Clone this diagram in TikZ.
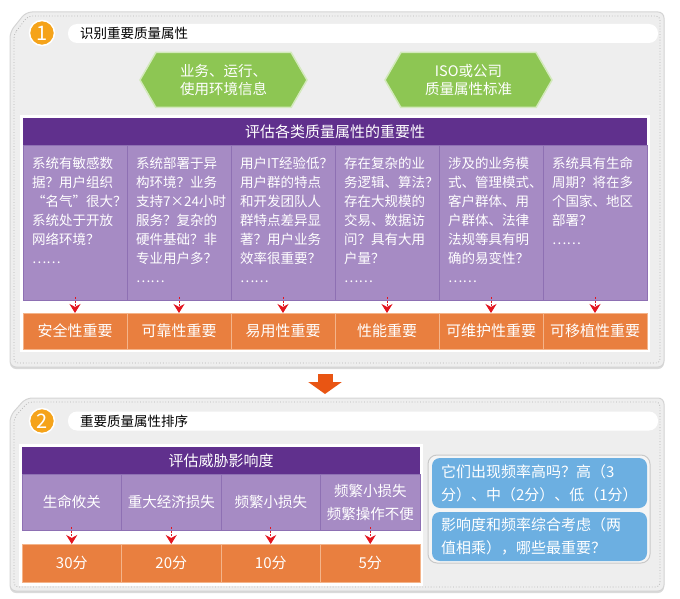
\documentclass[tikz,border=0pt]{standalone}
\usepackage{fontspec}
\setmainfont{Noto Sans CJK SC}
\usetikzlibrary{positioning,shapes.symbols,arrows.meta}

\definecolor{panelbg}{HTML}{EEEEEE}
\definecolor{panelline}{HTML}{D4D4D4}
\definecolor{panelshade}{HTML}{DADADA}
\definecolor{dotline}{HTML}{B5B5B5}
\definecolor{numorange}{HTML}{F5A31A}
\definecolor{hexgreen}{HTML}{8DC653}
\definecolor{hexline}{HTML}{D3E9BC}
\definecolor{darkpurple}{HTML}{60308D}
\definecolor{lightpurple}{HTML}{A68BC4}
\definecolor{purpleline}{HTML}{8E70B3}
\definecolor{resorange}{HTML}{E97F3F}
\definecolor{resline}{HTML}{F4B48A}
\definecolor{arrowred}{HTML}{E3151F}
\definecolor{bigorange}{HTML}{E95513}
\definecolor{askblue}{HTML}{6CAFE1}
\definecolor{askframe}{HTML}{C9C9C9}

\begin{document}
\begin{tikzpicture}[
    x=1pt, y=-1pt,
    panel/.style={fill=panelbg, draw=panelline, line width=1pt, rounded corners=6pt},
    dotframe/.style={draw=dotline, dotted, line width=0.8pt, rounded corners=4pt},
    titlebar/.style={fill=white, rounded corners=9pt, minimum width=590pt, minimum height=19pt,
                     text width=566pt, inner xsep=12pt, inner ysep=0pt, align=left,
                     font=\fontsize{13.5}{16}\selectfont},
    num/.style={circle, fill=numorange, draw=white, line width=1.5pt, minimum size=25pt,
                inner sep=0pt, text=white, font=\fontsize{20}{20}\selectfont},
    hexa/.style={signal, signal to=west and east, signal pointer angle=120,
                 fill=hexgreen, draw=hexline, line width=1.5pt,
                 minimum width=167pt, minimum height=55pt, inner sep=0pt,
                 text=white, align=center, font=\fontsize{14.5}{18}\selectfont},
    head/.style={fill=darkpurple, minimum height=27pt, inner sep=0pt, outer sep=0pt,
                 text=white, font=\fontsize{15}{18}\selectfont},
    col/.style={fill=lightpurple, draw=purpleline, line width=0.6pt, minimum width=104pt,
                minimum height=155pt, inner sep=0pt, outer sep=0pt},
    coltxt/.style={anchor=north west, text width=92pt, align=left, inner sep=0pt,
                   text=white, font=\fontsize{13.5}{19}\selectfont},
    res/.style={fill=resorange, draw=resline, line width=0.6pt, minimum width=104pt,
                minimum height=36pt, inner sep=0pt, outer sep=0pt,
                text=white, font=\fontsize{15}{18}\selectfont},
    threat/.style={col, minimum width=99.5pt, minimum height=56pt, align=center,
                   text=white, font=\fontsize{14.5}{23}\selectfont},
    score/.style={res, minimum width=99.5pt, minimum height=38pt},
    ask/.style={fill=askblue, rounded corners=8pt, minimum width=215pt, text width=197pt,
                inner xsep=9pt, align=left, text=white, font=\fontsize{15}{23}\selectfont},
    flow/.style={arrowred, line width=0.9pt, dash pattern=on 2pt off 1.5pt,
                 -{Stealth[length=9pt,width=11pt]}},
    bigarrow/.style={bigorange, line width=15pt, -{Triangle[length=12pt,width=33pt]}}
]
\useasboundingbox (0,0) rectangle (680,599);

% panel 1
\fill[panelshade, rounded corners=6pt, yshift=-2pt] (10,32) -- (26,12) -- (664,12) -- (664,367) -- (10,367) -- cycle;
\draw[panel] (10,32) -- (26,12) -- (664,12) -- (664,367) -- (10,367) -- cycle;
\draw[dotframe] (14,34) -- (28,16) -- (660,16) -- (660,363) -- (14,363) -- cycle;

\node[titlebar] (tb1) at (363,33.5) {识别重要质量属性};
\node[num] (n1) at (42,33) {1};

\node[hexa] (env) at (223.5,80) {业务、运行、\\使用环境信息};
\node[hexa] (std) at (468.5,80) {ISO或公司\\质量属性标准};

\fill[white] (20,115) rectangle (650,352);
\node[head, minimum width=624pt] (eval) at (335,131.5) {评估各类质量属性的重要性};

\node[col] (c1) at (75,222.5) {};
\node[col, right=0pt of c1] (c2) {};
\node[col, right=0pt of c2] (c3) {};
\node[col, right=0pt of c3] (c4) {};
\node[col, right=0pt of c4] (c5) {};
\node[col, right=0pt of c5] (c6) {};

\node[coltxt] (t1) at ([xshift=9pt,yshift=-12pt]c1.north west)
    {系统有敏感数\\据？用户组织\\“名气”很大？\\系统处于开放\\网络环境？\\……};
\node[coltxt] (t2) at ([xshift=9pt,yshift=-12pt]c2.north west)
    {系统部署于异\\构环境？业务\\支持7×24小时\\服务？复杂的\\硬件基础？非\\专业用户多？\\……};
\node[coltxt] (t3) at ([xshift=9pt,yshift=-12pt]c3.north west)
    {用户IT经验低？\\用户群的特点\\和开发团队人\\群特点差异显\\著？用户业务\\效率很重要？\\……};
\node[coltxt] (t4) at ([xshift=9pt,yshift=-12pt]c4.north west)
    {存在复杂的业\\务逻辑、算法？\\存在大规模的\\交易、数据访\\问？具有大用\\户量？\\……};
\node[coltxt] (t5) at ([xshift=9pt,yshift=-12pt]c5.north west)
    {涉及的业务模\\式、管理模式、\\客户群体、用\\户群体、法律\\法规等具有明\\确的易变性？\\……};
\node[coltxt] (t6) at ([xshift=9pt,yshift=-12pt]c6.north west)
    {系统具有生命\\周期？将在多\\个国家、地区\\部署？\\……};

\node[res, below=13pt of c1] (o1) {安全性重要};
\node[res, right=0pt of o1] (o2) {可靠性重要};
\node[res, right=0pt of o2] (o3) {易用性重要};
\node[res, right=0pt of o3] (o4) {性能重要};
\node[res, right=0pt of o4] (o5) {可维护性重要};
\node[res, right=0pt of o5] (o6) {可移植性重要};

\foreach \i in {1,...,6}
    \draw[flow] ([yshift=3pt]c\i.south) -- (o\i.north);

% step arrow
\coordinate (gap1) at (325,374);
\coordinate (gap2) at (325,394);
\draw[bigarrow] (gap1) -- (gap2);

% panel 2
\fill[panelshade, rounded corners=6pt, yshift=-2pt] (10,416) -- (26,398) -- (664,398) -- (664,591) -- (10,591) -- cycle;
\draw[panel] (10,416) -- (26,398) -- (664,398) -- (664,591) -- (10,591) -- cycle;
\draw[dotframe] (14,418) -- (28,402) -- (660,402) -- (660,587) -- (14,587) -- cycle;

\node[titlebar] (tb2) at (363,421) {重要质量属性排序};
\node[num] (n2) at (42,421) {2};

\fill[white] (19,444) rectangle (423,586);
\node[head, minimum width=398pt] (impact) at (221,460.5) {评估威胁影响度};

\node[threat] (d1) at (71.75,502) {生命攸关};
\node[threat, right=0pt of d1] (d2) {重大经济损失};
\node[threat, right=0pt of d2] (d3) {频繁小损失};
\node[threat, right=0pt of d3] (d4) {频繁小损失\\频繁操作不便};

\node[score, below=14pt of d1] (s1) {30分};
\node[score, right=0pt of s1] (s2) {20分};
\node[score, right=0pt of s2] (s3) {10分};
\node[score, right=0pt of s3] (s4) {5分};

\foreach \i in {1,...,4}
    \draw[flow] ([yshift=3pt]d\i.south) -- (s\i.north);

\draw[draw=askframe, fill=white!96!black, rounded corners=9pt, line width=1pt] (428,455) rectangle (650,563);
\node[ask, minimum height=50pt] (freq) at (539.5,483) {它们出现频率高吗？高（3\\分）、中（2分）、低（1分）};
\node[ask, minimum height=49pt] (rank) at (539.5,536.5) {影响度和频率综合考虑（两\\值相乘），哪些最重要？};

\end{tikzpicture}
\end{document}
